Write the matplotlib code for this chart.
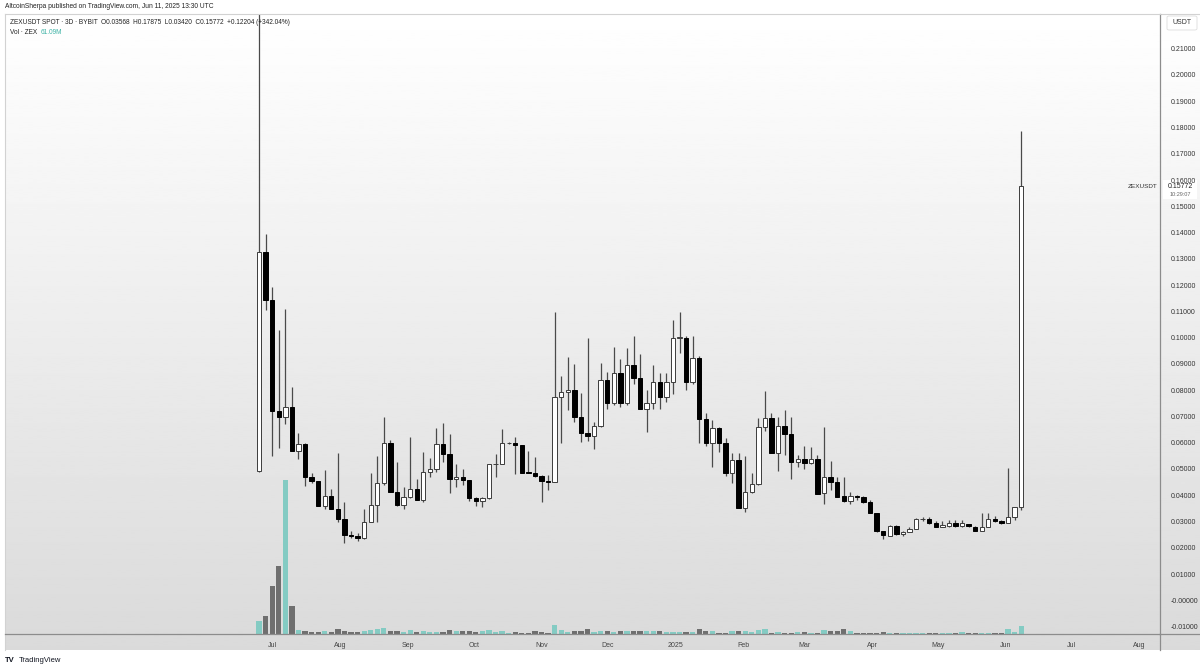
import numpy as np
import pandas as pd
import matplotlib
matplotlib.use("Agg")
import matplotlib.pyplot as plt
import matplotlib.dates as mdates
from matplotlib.patches import Rectangle, FancyBboxPatch
from matplotlib.lines import Line2D

plt.rcParams['font.family'] = ['Liberation Sans', 'DejaVu Sans']

# ---------------- data ----------------
start_date = "2024-06-25"
n_candles = 117

opens = [0.0493, 0.1325, 0.1142, 0.0720, 0.0696, 0.0737, 0.0568, 0.0594, 0.0469, 0.0453,
         0.0360, 0.0398, 0.0349, 0.0308, 0.0249, 0.0245, 0.0236, 0.0299, 0.0363, 0.0445,
         0.0598, 0.0413, 0.0363, 0.0392, 0.0424, 0.0382, 0.0487, 0.0499, 0.0594, 0.0557,
         0.0461, 0.0471, 0.0457, 0.0391, 0.0379, 0.0388, 0.0518, 0.0518, 0.0598, 0.0598,
         0.0590, 0.0487, 0.0486, 0.0473, 0.0455, 0.0451, 0.0773, 0.0792, 0.0801, 0.0697,
         0.0636, 0.0627, 0.0664, 0.0839, 0.0752, 0.0864, 0.0752, 0.0896, 0.0847, 0.0727,
         0.0750, 0.0830, 0.0775, 0.0830, 0.0997, 0.1000, 0.0832, 0.0921, 0.0689, 0.0598,
         0.0655, 0.0600, 0.0486, 0.0534, 0.0350, 0.0413, 0.0442, 0.0661, 0.0693, 0.0562,
         0.0664, 0.0633, 0.0525, 0.0537, 0.0521, 0.0537, 0.0407, 0.0471, 0.0449, 0.0397,
         0.0378, 0.0397, 0.0392, 0.0373, 0.0333, 0.0263, 0.0246, 0.0283, 0.0252, 0.0261,
         0.0272, 0.0308, 0.0311, 0.0295, 0.0280, 0.0284, 0.0295, 0.0284, 0.0290, 0.0280,
         0.0265, 0.0280, 0.0311, 0.0303, 0.0295, 0.0318, 0.03568]
highs = [0.2300, 0.1393, 0.1192, 0.1029, 0.1110, 0.0812, 0.0636, 0.0600, 0.0485, 0.0453,
         0.0496, 0.0424, 0.0561, 0.0376, 0.0262, 0.0255, 0.0347, 0.0485, 0.0550, 0.0697,
         0.0610, 0.0528, 0.0430, 0.0623, 0.0461, 0.0566, 0.0540, 0.0655, 0.0676, 0.0633,
         0.0518, 0.0499, 0.0458, 0.0395, 0.0395, 0.0518, 0.0557, 0.0651, 0.0603, 0.0623,
         0.0592, 0.0569, 0.0544, 0.0476, 0.0476, 0.1099, 0.0854, 0.0925, 0.0900, 0.0790,
         0.0997, 0.0680, 0.0905, 0.0870, 0.0965, 0.0918, 0.0959, 0.1006, 0.0937, 0.0801,
         0.0896, 0.0864, 0.0864, 0.1067, 0.1096, 0.1006, 0.1006, 0.0930, 0.0712, 0.0686,
         0.0660, 0.0617, 0.0560, 0.0560, 0.0549, 0.0486, 0.0693, 0.0798, 0.0712, 0.0699,
         0.0724, 0.0699, 0.0553, 0.0587, 0.0582, 0.0553, 0.0659, 0.0531, 0.0468, 0.0468,
         0.0412, 0.0400, 0.0396, 0.0380, 0.0333, 0.0263, 0.0287, 0.0287, 0.0262, 0.0278,
         0.0312, 0.0318, 0.0316, 0.0302, 0.0302, 0.0305, 0.0307, 0.0305, 0.0292, 0.0282,
         0.0331, 0.0331, 0.0322, 0.0306, 0.0505, 0.0357, 0.17875]
lows = [0.0490, 0.1105, 0.0550, 0.0578, 0.0670, 0.0568, 0.0537, 0.0437, 0.0447, 0.0358,
        0.0349, 0.0349, 0.0299, 0.0217, 0.0236, 0.0224, 0.0233, 0.0297, 0.0299, 0.0440,
        0.0413, 0.0359, 0.0346, 0.0390, 0.0380, 0.0373, 0.0471, 0.0490, 0.0528, 0.0407,
        0.0432, 0.0439, 0.0378, 0.0360, 0.0356, 0.0385, 0.0471, 0.0518, 0.0595, 0.0480,
        0.0485, 0.0483, 0.0468, 0.0375, 0.0420, 0.0449, 0.0600, 0.0724, 0.0680, 0.0604,
        0.0606, 0.0576, 0.0660, 0.0727, 0.0745, 0.0737, 0.0745, 0.0822, 0.0727, 0.0640,
        0.0727, 0.0727, 0.0756, 0.0784, 0.0943, 0.0801, 0.0822, 0.0600, 0.0587, 0.0509,
        0.0566, 0.0473, 0.0448, 0.0350, 0.0337, 0.0410, 0.0440, 0.0646, 0.0560, 0.0493,
        0.0553, 0.0461, 0.0507, 0.0499, 0.0518, 0.0403, 0.0367, 0.0420, 0.0392, 0.0373,
        0.0367, 0.0380, 0.0370, 0.0331, 0.0261, 0.0232, 0.0246, 0.0249, 0.0243, 0.0259,
        0.0270, 0.0300, 0.0290, 0.0278, 0.0278, 0.0279, 0.0280, 0.0279, 0.0279, 0.0265,
        0.0264, 0.0279, 0.0299, 0.0290, 0.0295, 0.0307, 0.03420]
closes = [0.1325, 0.1142, 0.0720, 0.0696, 0.0737, 0.0568, 0.0594, 0.0469, 0.0453, 0.0360,
          0.0398, 0.0349, 0.0308, 0.0249, 0.0244, 0.0236, 0.0299, 0.0363, 0.0445, 0.0598,
          0.0413, 0.0363, 0.0392, 0.0424, 0.0382, 0.0487, 0.0499, 0.0594, 0.0557, 0.0461,
          0.0471, 0.0457, 0.0391, 0.0379, 0.0388, 0.0518, 0.0519, 0.0598, 0.0600, 0.0590,
          0.0486, 0.0484, 0.0473, 0.0455, 0.0451, 0.0773, 0.0792, 0.0800, 0.0697, 0.0636,
          0.0627, 0.0664, 0.0839, 0.0752, 0.0864, 0.0752, 0.0896, 0.0847, 0.0727, 0.0750,
          0.0830, 0.0775, 0.0830, 0.0997, 0.1001, 0.0832, 0.0921, 0.0689, 0.0598, 0.0655,
          0.0600, 0.0486, 0.0534, 0.0350, 0.0413, 0.0442, 0.0661, 0.0693, 0.0562, 0.0664,
          0.0633, 0.0525, 0.0537, 0.0521, 0.0537, 0.0405, 0.0471, 0.0449, 0.0394, 0.0378,
          0.0397, 0.0394, 0.0373, 0.0331, 0.0263, 0.0247, 0.0283, 0.0252, 0.0261, 0.0272,
          0.0308, 0.0310, 0.0293, 0.0280, 0.0287, 0.0295, 0.0284, 0.0293, 0.0281, 0.0265,
          0.0280, 0.0308, 0.0303, 0.0295, 0.0318, 0.0357, 0.15772]
volumes_m = [99, 137, 365, 517, 1170, 213, 28, 25, 15, 15,
             25, 13, 36, 21, 15, 15, 21, 30, 36, 46,
             21, 21, 13, 33, 15, 25, 15, 15, 15, 30,
             23, 21, 21, 15, 21, 28, 15, 25, 10, 15,
             10, 8, 21, 17, 10, 66, 28, 17, 21, 21,
             36, 15, 21, 21, 17, 25, 25, 21, 25, 25,
             25, 21, 15, 15, 15, 15, 13, 36, 21, 21,
             10, 10, 25, 21, 21, 13, 28, 36, 10, 17,
             10, 10, 15, 17, 10, 10, 28, 21, 21, 40,
             25, 10, 10, 10, 10, 15, 10, 10, 10, 10,
             10, 10, 10, 10, 10, 10, 10, 15, 10, 10,
             10, 10, 10, 10, 40, 15, 61.09]

month_ticks = ["2024-07-01", "2024-08-01", "2024-09-01", "2024-10-01", "2024-11-01",
               "2024-12-01", "2025-01-01", "2025-02-01", "2025-03-01", "2025-04-01",
               "2025-05-01", "2025-06-01", "2025-07-01", "2025-08-01"]
month_labels = ["Jul", "Aug", "Sep", "Oct", "Nov", "Dec", "2025", "Feb", "Mar", "Apr",
                "May", "Jun", "Jul", "Aug"]
price_ticks = [-0.01, 0.0, 0.01, 0.02, 0.03, 0.04, 0.05, 0.06, 0.07, 0.08, 0.09, 0.10,
               0.11, 0.12, 0.13, 0.14, 0.15, 0.16, 0.17, 0.18, 0.19, 0.20, 0.21]

# ---------------- figure ----------------
W, H = 1200, 670
fig = plt.figure(figsize=(12, 6.7), dpi=100)
fig.patch.set_facecolor("white")


def fx(px):
    return px / W


def fy(py):
    return 1 - py / H


# gradient background
bg = fig.add_axes([fx(5), fy(650), fx(1195), (650 - 14) / H])
grad = np.linspace(1.0, 0.855, 256).reshape(-1, 1)
bg.imshow(grad, aspect="auto", cmap="gray", vmin=0, vmax=1, extent=[0, 1, 0, 1])
bg.axis("off")
bg.set_zorder(0)

pos = [fx(5), fy(634), (1160 - 5) / W, (634 - 14) / H]
axv = fig.add_axes(pos)
axv.set_zorder(1)
axv.patch.set_alpha(0)
ax = fig.add_axes(pos, sharex=axv)
ax.set_zorder(2)
ax.patch.set_alpha(0)

dates = pd.date_range(start_date, periods=n_candles, freq="3D")
xd = mdates.date2num(dates)
o = np.array(opens)
h = np.array(highs)
l = np.array(lows)
c = np.array(closes)
up = c >= o

# volume
vcol = np.where(up, "#84cbc3", "#6f6f6f")
axv.bar(xd, volumes_m, width=2.4, color=vcol, linewidth=0)
axv.set_ylim(0, 4710)
axv.axis("off")

# candles
ax.vlines(xd, l, h, color="#4a4a4a", linewidth=0.9, zorder=2)
body_bottom = np.minimum(o, c)
body_h = np.abs(c - o)
ax.bar(xd[up], body_h[up], bottom=body_bottom[up], width=2.0,
       color="white", edgecolor="#3c3c3c", linewidth=0.7, zorder=3)
ax.bar(xd[~up], body_h[~up], bottom=body_bottom[~up], width=2.0,
       color="black", edgecolor="black", linewidth=0.7, zorder=3)

x0 = mdates.date2num(pd.Timestamp(start_date))
ax.set_xlim(x0 - 116.0, x0 + 411.4)
ax.set_ylim(-0.01283, 0.2232)

ax.yaxis.tick_right()
ax.set_yticks(price_ticks)
ax.set_yticklabels(["-0.00000" if abs(v) < 1e-12 else f"{v:.5f}" for v in price_ticks])
ax.tick_params(axis="y", length=0, pad=8, labelsize=5, labelcolor="#333333")
ax.set_xticks(mdates.date2num(pd.to_datetime(month_ticks)))
ax.set_xticklabels(month_labels)
ax.tick_params(axis="x", length=0, pad=5.5, labelsize=5, labelcolor="#444444")

for s in ["left", "top"]:
    ax.spines[s].set_color("#d2d2d2")
    ax.spines[s].set_linewidth(0.8)
for s in ["right", "bottom"]:
    ax.spines[s].set_color("#8c8c8c")
    ax.spines[s].set_linewidth(0.9)

# extra frame lines
fig.add_artist(Line2D([fx(1160), fx(1160)], [fy(634), fy(650)], color="#8c8c8c", lw=0.9))
fig.add_artist(Line2D([fx(1160), fx(1200)], [fy(634), fy(634)], color="#8c8c8c", lw=0.9))
fig.add_artist(Line2D([fx(1160), fx(1200)], [fy(14), fy(14)], color="#d2d2d2", lw=0.8))
fig.add_artist(Line2D([fx(5), fx(5)], [fy(634), fy(650)], color="#d2d2d2", lw=0.8))

# header texts
fig.text(fx(5), fy(7), "AltcoinSherpa published on TradingView.com, Jun 11, 2025 13:30 UTC",
         fontsize=4.8, color="#222222", ha="left", va="center")
fig.text(fx(10), fy(22),
         "ZEXUSDT SPOT · 3D · BYBIT  O0.03568  H0.17875  L0.03420  C0.15772  +0.12204 (+342.04%)",
         fontsize=4.7, color="#222222", ha="left", va="center")
fig.text(fx(10), fy(32), "Vol · ZEX", fontsize=4.7, color="#222222", ha="left", va="center")
fig.text(fx(41), fy(32), "61.09M", fontsize=4.7, color="#3fb3a6", ha="left", va="center")

# USDT box
fig.add_artist(FancyBboxPatch((fx(1167), fy(30)), fx(30), (30 - 16) / H,
                              boxstyle="round,pad=0,rounding_size=0.002",
                              facecolor="white", edgecolor="#dddddd", lw=0.6))
fig.text(fx(1182), fy(23), "USDT", fontsize=5, color="#333333", ha="center", va="center")

# current price label
fig.add_artist(Rectangle((fx(1163), fy(199)), fx(34), (199 - 180) / H,
                         facecolor="white", edgecolor="none"))
fig.text(fx(1180), fy(186), "0.15772", fontsize=5, color="#222222", ha="center", va="center")
fig.text(fx(1180), fy(194), "10:29:07", fontsize=4, color="#666666", ha="center", va="center")
fig.text(fx(1157), fy(186), "ZEXUSDT", fontsize=4.6, color="#333333", ha="right", va="center")

# TradingView logo
fig.text(fx(5), fy(660), "TV", fontsize=5.5, color="#131722", ha="left", va="center",
         fontweight="bold")
fig.text(fx(19), fy(660), "TradingView", fontsize=5.5, color="#131722", ha="left", va="center")

fig.savefig("out.png", dpi=100, facecolor="white")
